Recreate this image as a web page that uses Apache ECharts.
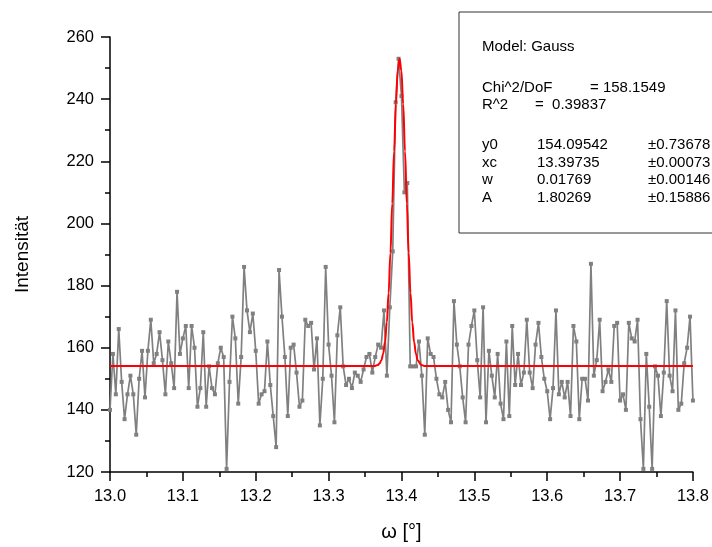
<!DOCTYPE html>
<html>
<head>
<meta charset="utf-8">
<script src="https://cdn.jsdelivr.net/npm/echarts@6/dist/echarts.min.js"></script>
<style>html,body{margin:0;padding:0;background:#fff;}#chart{width:712px;height:547px;}</style>
</head>
<body>
<div id="chart"></div>
<script>
// Measured data (Intensität vs omega), start 13.0, step 0.004
const xStart = 13.0;
const xStep = 0.004;
const intensity = [
  140,158,145,166,149,137,145,151,145,132,
  150,159,144,159,169,155,158,165,156,145,
  162,155,147,178,158,163,167,147,167,160,
  141,147,165,141,154,147,145,155,160,157,
  121,149,170,163,142,157,186,172,165,171,
  159,142,145,146,162,148,138,128,185,170,
  157,138,160,161,152,141,143,169,167,168,
  153,163,135,150,186,161,151,136,164,173,
  154,148,150,147,152,151,149,153,157,158,
  152,157,161,160,172,151,173,191,239,253,
  241,210,213,154,154,154,162,151,132,163,
  158,157,150,145,144,149,140,136,175,161,
  154,144,136,161,167,172,156,144,173,136,
  159,151,144,158,142,137,162,138,167,148,
  158,148,152,169,152,147,161,168,157,150,
  146,137,147,172,145,149,144,149,138,167,
  162,137,150,150,143,187,151,156,169,146,
  149,153,149,167,168,143,145,140,168,163,
  162,169,137,121,158,141,121,154,151,138,
  152,175,151,146,172,140,142,155,160,170,
  143
];

// Fit curve (Gauss)
const fitX = [13.0, 13.36235, 13.36735, 13.36985, 13.37235, 13.37485, 13.37735, 13.37985, 13.38235,
  13.38485, 13.38735, 13.38985, 13.39235, 13.39485, 13.39735, 13.39985, 13.40235, 13.40485,
  13.40735, 13.40985, 13.41235, 13.41485, 13.41735, 13.41985, 13.42235, 13.42735, 13.43235, 13.8];
const fitY = [154.1, 154.1, 154.4, 154.9, 155.9, 158.0, 161.8, 168.1, 177.6,
  190.5, 206.4, 223.2, 238.4, 249.2, 253.1, 249.2, 238.4, 223.2,
  206.4, 190.5, 177.6, 168.1, 161.8, 158.0, 155.9, 154.4, 154.1, 154.1];

const xTicks = ['13.0','13.1','13.2','13.3','13.4','13.5','13.6','13.7','13.8'];
const yTicks = ['120','140','160','180','200','220','240','260'];

const fitTitle = 'Model: Gauss';
const statLines = [['Chi^2/DoF', '= 158.1549'], ['R^2', '=  0.39837']];
const paramNames = ['y0', 'xc', 'w', 'A'];
const paramValues = ['154.09542', '13.39735', '0.01769', '1.80269'];
const paramErrors = ['\u00b10.73678', '\u00b10.00073', '\u00b10.00146', '\u00b10.15886'];

const dataPts = intensity.map((v, i) => [+(xStart + i * xStep).toFixed(3), v]);
const fitPts = fitX.map((x, i) => [x, fitY[i]]);

const FONT = '"Liberation Sans", Arial, sans-serif';
const txt = (t, x, y) => ({ type: 'text', x: x, y: y, z: 100,
  style: { text: t, font: '15px ' + FONT, fill: '#000', textVerticalAlign: 'middle' } });

const graphics = [
  { type: 'rect', shape: { x: 459, y: 12, width: 280, height: 221 }, z: 90,
    style: { fill: '#fff', stroke: '#333', lineWidth: 1 } },
  txt(fitTitle, 482, 47),
  txt(statLines[0][0], 482, 88), txt(statLines[0][1], 590, 88),
  txt(statLines[1][0], 482, 105), txt(statLines[1][1], 535, 105)
];
const rowY = [145, 162.5, 180, 197.5];
paramNames.forEach((n, i) => {
  graphics.push(txt(n, 482, rowY[i]));
  graphics.push(txt(paramValues[i], 537, rowY[i]));
  graphics.push(txt(paramErrors[i], 648, rowY[i]));
});

const chart = echarts.init(document.getElementById('chart'));
chart.setOption({
  animation: false,
  backgroundColor: '#fff',
  grid: { left: 110, right: 19, top: 37, bottom: 71, containLabel: false },
  xAxis: {
    type: 'value', min: 13.0, max: 13.8, interval: 0.1,
    name: 'ω [°]', nameLocation: 'middle', nameGap: 50,
    nameTextStyle: { fontSize: 20, fontFamily: FONT, color: '#000' },
    axisLine: { onZero: false, lineStyle: { color: '#000', width: 1.5 } },
    axisTick: { inside: false, length: 9, lineStyle: { color: '#000', width: 1.5 } },
    minorTick: { show: true, splitNumber: 2, length: 5, lineStyle: { color: '#000', width: 1.5 } },
    splitLine: { show: false },
    axisLabel: { fontSize: 16.5, fontFamily: FONT, color: '#000', margin: 16,
      formatter: v => xTicks[Math.round((v - 13.0) / 0.1)] }
  },
  yAxis: {
    type: 'value', min: 120, max: 260, interval: 20,
    name: 'Intensität', nameLocation: 'middle', nameGap: 78, nameRotate: 90,
    nameTextStyle: { fontSize: 19, fontFamily: FONT, color: '#000' },
    axisLine: { show: true, onZero: false, lineStyle: { color: '#000', width: 1.5 } },
    axisTick: { show: true, inside: false, length: 9, lineStyle: { color: '#000', width: 1.5 } },
    minorTick: { show: true, splitNumber: 2, length: 5, lineStyle: { color: '#000', width: 1.5 } },
    splitLine: { show: false },
    axisLabel: { fontSize: 16.5, fontFamily: FONT, color: '#000', margin: 16,
      formatter: v => yTicks[Math.round((v - 120) / 20)] }
  },
  series: [
    { type: 'line', data: dataPts, symbol: 'rect', symbolSize: 4, showSymbol: true,
      lineStyle: { color: '#808080', width: 1.7 }, itemStyle: { color: '#808080' }, z: 2 },
    { type: 'line', data: fitPts, symbol: 'none', smooth: 0.4, smoothMonotone: 'x',
      lineStyle: { color: '#ff0000', width: 2 }, z: 3 }
  ],
  graphic: graphics
});
</script>
</body>
</html>
